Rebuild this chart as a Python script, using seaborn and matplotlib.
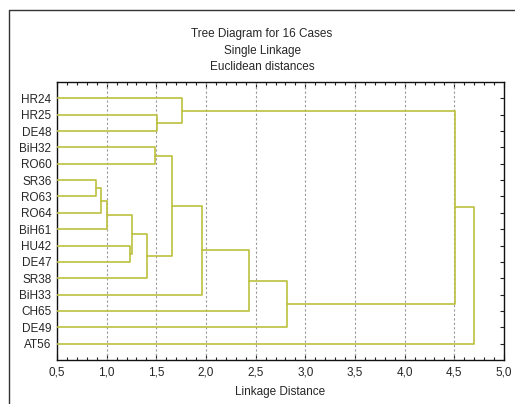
import numpy as np
import pandas as pd
import matplotlib
matplotlib.use("Agg")
import matplotlib.pyplot as plt
from matplotlib.lines import Line2D
from matplotlib.ticker import MultipleLocator, FuncFormatter
import seaborn as sns

# leaves, top to bottom
labels = ['HR24', 'HR25', 'DE48', 'BiH32', 'RO60', 'SR36', 'RO63', 'RO64',
          'BiH61', 'HU42', 'DE47', 'SR38', 'BiH33', 'CH65', 'DE49', 'AT56']

# linkage steps: ids 0..15 are leaves, 16+ are clusters in merge order
merge_a = [5, 16, 17, 9, 18, 20, 3, 1, 22, 0, 24, 26, 27, 25, 29]
merge_b = [6, 7, 8, 10, 19, 11, 4, 2, 21, 23, 12, 13, 14, 28, 15]
merge_h = [0.89, 0.94, 1.00, 1.23, 1.255, 1.41, 1.49, 1.51, 1.655, 1.76,
           1.957, 2.43, 2.82, 4.51, 4.70]

line_col = '#bcc03c'

sns.set_style('white')
plt.rcParams['font.family'] = ['Liberation Sans', 'DejaVu Sans']
plt.rcParams['font.size'] = 8.5

# positions of each node (y = row, x = height)
pos_y = {i: float(i) for i in range(len(labels))}
pos_x = {i: 0.0 for i in range(len(labels))}
rows = []
for k, (a, b, h) in enumerate(zip(merge_a, merge_b, merge_h)):
    nid = len(labels) + k
    xs = [pos_x[a], h, h, pos_x[b]]
    ys = [pos_y[a], pos_y[a], pos_y[b], pos_y[b]]
    for j in range(4):
        rows.append({'link': k, 'order': j, 'x': xs[j], 'y': ys[j]})
    pos_x[nid] = h
    pos_y[nid] = (pos_y[a] + pos_y[b]) / 2
segs = pd.DataFrame(rows)

fig = plt.figure(figsize=(5.15, 4.04), dpi=100)
ax = fig.add_axes([57/515, 1-360/404, (504-57)/515, (360-82)/404])

sns.lineplot(data=segs, x='x', y='y', units='link', estimator=None, sort=False,
             color=line_col, lw=1.2, ax=ax, zorder=3)

ax.set_xlim(0.5, 5.0)
ax.set_ylim(16, -1)
ax.xaxis.set_major_locator(MultipleLocator(0.5))
ax.xaxis.set_minor_locator(MultipleLocator(0.1))
ax.xaxis.set_major_formatter(FuncFormatter(lambda v, p: f'{v:.1f}'.replace('.', ',')))
ax.set_yticks(range(len(labels)))
ax.set_yticklabels(labels)
ax.tick_params(axis='x', which='both', direction='in', top=True, bottom=True,
               color='#222222', labelsize=8.5, pad=5)
ax.tick_params(axis='x', which='major', length=4, width=0.8)
ax.tick_params(axis='x', which='minor', length=2.5, width=0.8)
ax.tick_params(axis='y', direction='in', left=False, right=True, labelleft=True,
               length=3, width=0.8, labelsize=8.5, pad=4, color='#222222')

for v in np.arange(1.0, 5.0, 0.5):
    ax.axvline(v, color='#9a9a9a', lw=0.8, ls=(0, (2, 2)), zorder=1)

for s in ax.spines.values():
    s.set_visible(True)
    s.set_color('#111111')
    s.set_linewidth(1.0)

ax.set_xlabel('Linkage Distance', fontsize=8.5, labelpad=5)
ax.set_ylabel('')

fig.text(262/515, 1-34/404, 'Tree Diagram for 16 Cases', ha='center', va='center', fontsize=8.5)
fig.text(262/515, 1-51/404, 'Single Linkage', ha='center', va='center', fontsize=8.5)
fig.text(262/515, 1-67/404, 'Euclidean distances', ha='center', va='center', fontsize=8.5)

# outer frame (left and top edges visible)
fig.add_artist(Line2D([9/515, 9/515, 1.0], [0.0, 1-10/404, 1-10/404],
                      transform=fig.transFigure, color='#333333', lw=1.0))

fig.savefig('out.png', dpi=100)
